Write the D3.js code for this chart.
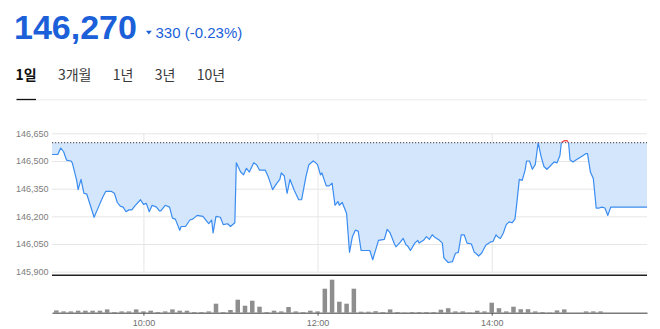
<!DOCTYPE html>
<html><head><meta charset="utf-8">
<script src="https://cdn.jsdelivr.net/npm/d3@7"></script>
<style>body{margin:0;background:#fff;} svg{display:block}</style>
</head><body>
<svg id="c" width="660" height="329"></svg>
<script>
// ---- data ----
const lastPrice = 146270;
const change = -330;
const changePct = -0.23;
const prevClose = 146600;
const tabs = ["1일", "3개월", "1년", "3년", "10년"];
const yTicks = [145900, 146050, 146200, 146350, 146500, 146650];
const xTicks = ["10:00", "12:00", "14:00"];
// minutes from 09:00
const minutes = [-3,1,3,5,7,10,11,14,15,17,19,21,26,29,32,34,38,40,42,44,46,48,50,52,54,58,60,62,64,66,69,71,72,75,78,80,82,85,86,89,92,94,97,101,104,105,107,108,110,113,115,118,120,123,124,127,129,131,133,136,138,140,144,146,149,152,154,155,157,159,161,164,167,169,172,174,177,178,180,182,183,186,188,190,192,194,195,197,200,202,204,206,208,210,216,218,222,226,228,230,233,234,237,239,241,242,244,247,249,250,253,255,257,259,261,264,266,267,270,273,275,277,279,281,283,286,288,289,291,293,296,299,301,303,304,306,308,310,312,314,316,317,319,321,323,324,326,328,330,332,334,336,338,340,343,345,347,348,350,352,353,354,356,358,360,363,365,366,368,370,372,374,376,378,380,382,407];
const prices = [146535,146535,146570,146550,146505,146500,146490,146395,146345,146400,146325,146320,146195,146250,146305,146335,146335,146325,146275,146255,146250,146225,146235,146235,146255,146290,146265,146270,146225,146260,146250,146230,146230,146260,146250,146190,146185,146125,146145,146145,146180,146185,146205,146200,146170,146160,146180,146110,146200,146195,146155,146160,146145,146165,146490,146440,146425,146460,146440,146490,146480,146450,146450,146415,146345,146380,146400,146435,146420,146325,146400,146340,146290,146290,146415,146480,146500,146495,146480,146425,146435,146365,146365,146380,146260,146280,146260,146275,146215,146005,146090,146125,146120,146015,146015,145965,146070,146075,146130,146110,146050,146035,146060,146080,146045,146040,146015,146055,146070,146055,146070,146090,146075,146100,146085,146070,146055,145975,145950,145955,146000,146005,146100,146100,146055,146050,146005,146000,145985,146000,146045,146060,146065,146100,146090,146080,146110,146155,146170,146165,146185,146250,146400,146395,146450,146500,146500,146455,146480,146600,146525,146470,146455,146470,146495,146490,146530,146600,146610,146610,146595,146505,146495,146505,146515,146530,146540,146540,146440,146405,146245,146245,146250,146245,146205,146250,146250];
// 5-minute volume bars, bar i starts at 09:00 + 5*i
const volumes = [23,13,13,20,20,20,20,33,7,13,13,33,13,20,7,13,33,20,20,7,7,13,90,7,27,130,70,120,60,7,20,13,57,13,7,20,13,240,330,110,90,240,10,10,15,7,33,7,3,7,7,7,7,30,45,13,13,3,20,13,100,45,13,60,35,35,13,7,3,23,33,0,0,13,13,13];

// ---- helpers ----
const base = new Date(2024, 0, 2, 9, 0, 0);
const toDate = m => new Date(base.getTime() + m * 60000);
const parseHM = s => { const [h, mm] = s.split(":").map(Number); return new Date(2024, 0, 2, h, mm, 0); };
const series = minutes.map((m, i) => ({ t: toDate(m), p: prices[i] }));
const bars = volumes.map((v, i) => ({ t: toDate(5 * i), v }));

const svg = d3.select("#c");
const L = 52, R = 647;
const blue = "#1b5fd9";

// ---- header ----
svg.append("text").attr("x", 14).attr("y", 39.3)
  .attr("font-family", "Liberation Sans, Arial, sans-serif").attr("font-weight", "bold")
  .attr("font-size", 34).attr("fill", blue).text(d3.format(",")(lastPrice));
svg.append("path").attr("d", "M146,30.7 L151.8,30.7 L148.9,34.4 Z").attr("fill", blue);
svg.append("text").attr("x", 155.5).attr("y", 38)
  .attr("font-family", "Liberation Sans, Arial, sans-serif")
  .attr("font-size", 15).attr("fill", blue)
  .text(`${d3.format(",")(Math.abs(change))} (${changePct.toFixed(2)}%)`);

// ---- tabs ----
let tx = 15.5;
tabs.forEach((t, i) => {
  const el = svg.append("text").attr("x", tx).attr("y", 80)
    .attr("font-family", "Noto Sans CJK KR, sans-serif")
    .attr("font-size", 14).attr("font-weight", i === 0 ? "bold" : "normal")
    .attr("fill", i === 0 ? "#111" : "#3a3a3a").text(t);
  const w = el.node().getComputedTextLength();
  if (i === 0) {
    svg.append("line").attr("x1", 16.5).attr("x2", 36).attr("y1", 99.5).attr("y2", 99.5)
      .attr("stroke", "#111").attr("stroke-width", 1.3);
  }
  tx += w + 21.3;
});
svg.insert("line", ":first-child").attr("x1", 16.5).attr("x2", R).attr("y1", 99.8).attr("y2", 99.8)
  .attr("stroke", "#ececec").attr("stroke-width", 1);

// ---- scales ----
const x = d3.scaleTime().domain(d3.extent(series, d => d.t)).range([L, R]);
const y = d3.scaleLinear().domain([145900, 146650]).range([271.7, 133.3]);
const vy = d3.scaleLinear().domain([0, d3.max(volumes)]).range([312.7, 279.7]);

// ---- grid / y axis ----
const yAxis = svg.append("g").attr("transform", `translate(${L},0)`)
  .call(d3.axisLeft(y).tickValues(yTicks).tickFormat(d3.format(",")).tickSize(-(R - L)).tickPadding(3.5));
yAxis.select(".domain").remove();
yAxis.selectAll("line").attr("stroke", "#e6e6e6");
yAxis.selectAll("text").attr("fill", "#7d7d7d").attr("font-size", 9)
  .attr("font-family", "Liberation Sans, Arial, sans-serif");

const xGrid = svg.append("g").attr("transform", `translate(0,${y(145900)})`)
  .call(d3.axisBottom(x).tickValues(xTicks.map(parseHM)).tickSize(-(y(145900) - y(146650))).tickFormat(""));
xGrid.select(".domain").remove();
xGrid.selectAll("line").attr("stroke", "#e6e6e6");

// ---- area + line ----
const refY = y(prevClose);
const defs = svg.append("defs");
defs.append("clipPath").attr("id", "below").append("rect")
  .attr("x", 0).attr("y", refY).attr("width", 660).attr("height", 300);
defs.append("clipPath").attr("id", "above").append("rect")
  .attr("x", 0).attr("y", 0).attr("width", 660).attr("height", refY);

const area = d3.area().x(d => x(d.t)).y0(refY).y1(d => y(d.p));
const line = d3.line().x(d => x(d.t)).y(d => y(d.p));

svg.append("path").datum(series).attr("d", area).attr("fill", "#d3e6fc").attr("clip-path", "url(#below)");
svg.append("path").datum(series).attr("d", area).attr("fill", "#fde1e1").attr("clip-path", "url(#above)");

svg.append("line").attr("x1", L).attr("x2", R).attr("y1", refY).attr("y2", refY)
  .attr("stroke", "#5a5f66").attr("stroke-width", 1.3).attr("stroke-dasharray", "1.2,1.8");

svg.append("path").datum(series).attr("d", line).attr("fill", "none")
  .attr("stroke", "#3a8cf0").attr("stroke-width", 1.2).attr("stroke-linejoin", "round")
  .attr("clip-path", "url(#below)");
svg.append("path").datum(series).attr("d", line).attr("fill", "none")
  .attr("stroke", "#f04848").attr("stroke-width", 1.2).attr("stroke-linejoin", "round")
  .attr("clip-path", "url(#above)");

// price panel bottom border
svg.append("line").attr("x1", L).attr("x2", R).attr("y1", 275.3).attr("y2", 275.3)
  .attr("stroke", "#222").attr("stroke-width", 1.5);

// ---- volume ----
const bw = 4.5;
svg.append("g").selectAll("rect").data(bars).join("rect")
  .attr("x", d => x(d.t) - bw / 2).attr("width", bw)
  .attr("y", d => vy(d.v)).attr("height", d => vy(0) - vy(d.v))
  .attr("fill", "#8e8e8e");

const xAxis = svg.append("g").attr("transform", `translate(0,${vy(0)})`)
  .call(d3.axisBottom(x).tickValues(xTicks.map(parseHM)).tickFormat(d3.timeFormat("%H:%M"))
    .tickSize(3).tickPadding(4).tickSizeOuter(0));
xAxis.select(".domain").attr("stroke", "#7a7a7a").attr("stroke-width", 1.6);
xAxis.selectAll("line").attr("stroke", "#555");
xAxis.selectAll("text").attr("fill", "#707070").attr("font-size", 9)
  .attr("font-family", "Liberation Sans, Arial, sans-serif");
</script>
</body></html>
